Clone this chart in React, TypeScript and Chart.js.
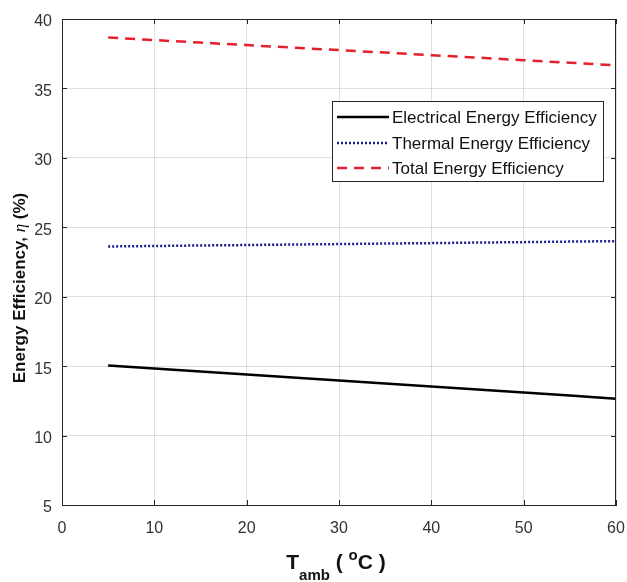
import { useEffect, useRef } from 'react';
import { Chart, registerables } from 'chart.js';

Chart.register(...registerables);

const temperatures = [5, 10, 15, 20, 25, 30, 35, 40, 45, 50, 55, 60];
const electrical = [15.05, 14.83, 14.61, 14.4, 14.18, 13.97, 13.75, 13.53, 13.32, 13.1, 12.88, 12.66];
const thermal = [23.62, 23.65, 23.69, 23.72, 23.76, 23.79, 23.83, 23.86, 23.9, 23.93, 23.97, 24.0];
const total = [38.67, 38.48, 38.3, 38.12, 37.94, 37.76, 37.58, 37.39, 37.22, 37.03, 36.85, 36.66];
const seriesLabels = ['Electrical Energy Efficiency', 'Thermal Energy Efficiency', 'Total Energy Efficiency'];
const xRange = [0, 60];
const yRange = [5, 40];

const FONT = '"Liberation Sans", Arial, Helvetica, sans-serif';
const AXIS = '#262626';
const TICK_TEXT = '#333333';

const decorPlugin = {
  id: 'decor',
  afterDraw(chart: any) {
    const ctx = chart.ctx as CanvasRenderingContext2D;
    const { left, right, top, bottom } = chart.chartArea;
    const xs = chart.scales.x;
    const ys = chart.scales.y;
    ctx.save();
    // box border top/right
    ctx.strokeStyle = AXIS;
    ctx.lineWidth = 1;
    ctx.beginPath();
    ctx.moveTo(left, top + 0.5);
    ctx.lineTo(right, top + 0.5);
    ctx.moveTo(right - 0.5, top);
    ctx.lineTo(right - 0.5, bottom);
    ctx.stroke();
    // inward ticks
    const tl = 5;
    ctx.beginPath();
    xs.ticks.forEach((t: any) => {
      const px = Math.round(xs.getPixelForValue(t.value)) + 0.5;
      ctx.moveTo(px, bottom);
      ctx.lineTo(px, bottom - tl);
      ctx.moveTo(px, top);
      ctx.lineTo(px, top + tl);
    });
    ys.ticks.forEach((t: any) => {
      const py = Math.round(ys.getPixelForValue(t.value)) + 0.5;
      ctx.moveTo(left, py);
      ctx.lineTo(left + tl, py);
      ctx.moveTo(right, py);
      ctx.lineTo(right - tl, py);
    });
    ctx.stroke();

    // legend
    const lx = 332, ly = 101, lw = 271, lh = 80;
    ctx.fillStyle = '#ffffff';
    ctx.fillRect(lx, ly, lw, lh);
    ctx.strokeStyle = AXIS;
    ctx.lineWidth = 1;
    ctx.strokeRect(lx + 0.5, ly + 0.5, lw, lh);
    const rows = [117, 143, 168];
    chart.data.datasets.forEach((ds: any, i: number) => {
      const y = rows[i];
      ctx.save();
      ctx.strokeStyle = ds.borderColor;
      ctx.lineWidth = ds.borderWidth;
      ctx.setLineDash(ds.borderDash || []);
      ctx.beginPath();
      ctx.moveTo(337, y);
      ctx.lineTo(389, y);
      ctx.stroke();
      ctx.restore();
      ctx.fillStyle = '#111111';
      ctx.font = `17px ${FONT}`;
      ctx.textBaseline = 'middle';
      ctx.textAlign = 'left';
      ctx.fillText(ds.label, 392, y + 1);
    });

    // x title: T_amb ( °C )
    ctx.fillStyle = '#111111';
    ctx.textBaseline = 'alphabetic';
    ctx.textAlign = 'left';
    const big = `bold 21px ${FONT}`;
    const small = `bold 15px ${FONT}`;
    ctx.font = big;
    const wT = ctx.measureText('T').width;
    const wOpen = ctx.measureText(' ( ').width;
    const wC = ctx.measureText('C )').width;
    ctx.font = small;
    const wAmb = ctx.measureText('amb').width;
    const wO = ctx.measureText('o').width;
    const totalW = wT + wAmb + wOpen + wO + wC;
    let cx = 336 - totalW / 2;
    const base = 569;
    ctx.font = big;
    ctx.fillText('T', cx, base);
    cx += wT;
    ctx.font = small;
    ctx.fillText('amb', cx, base + 11);
    cx += wAmb;
    ctx.font = big;
    ctx.fillText(' ( ', cx, base);
    cx += wOpen;
    ctx.font = small;
    ctx.fillText('o', cx, base - 9);
    cx += wO;
    ctx.font = big;
    ctx.fillText('C )', cx, base);

    // y title: Energy Efficiency, η (%)
    ctx.save();
    ctx.translate(25, 0);
    ctx.rotate(-Math.PI / 2);
    const f1 = `bold 17px ${FONT}`;
    const f2 = `italic 17px "Liberation Serif", "Times New Roman", serif`;
    ctx.font = f1;
    const p1 = 'Energy Efficiency, ';
    const p3 = ' (%)';
    const w1 = ctx.measureText(p1).width;
    const w3 = ctx.measureText(p3).width;
    ctx.font = f2;
    const w2 = ctx.measureText('η').width;
    const tw = w1 + w2 + w3;
    let ty = -(288 + tw / 2);
    ctx.font = f1;
    ctx.fillText(p1, ty, 0);
    ty += w1;
    ctx.font = f2;
    ctx.fillText('η', ty, 0);
    ty += w2;
    ctx.font = f1;
    ctx.fillText(p3, ty, 0);
    ctx.restore();

    ctx.restore();
  },
};

export default function App() {
  const ref = useRef<HTMLCanvasElement | null>(null);
  useEffect(() => {
    document.body.style.margin = '0';
    const mk = (arr: number[]) => temperatures.map((t, i) => ({ x: t, y: arr[i] }));
    const chart = new Chart(ref.current as HTMLCanvasElement, {
      type: 'line',
      data: {
        datasets: [
          {
            label: seriesLabels[0],
            data: mk(electrical),
            borderColor: '#000000',
            borderWidth: 2.5,
            pointRadius: 0,
            fill: false,
          },
          {
            label: seriesLabels[1],
            data: mk(thermal),
            borderColor: '#1a1a8a',
            borderWidth: 2.5,
            borderDash: [2, 2],
            pointRadius: 0,
            fill: false,
          },
          {
            label: seriesLabels[2],
            data: mk(total),
            borderColor: '#e3202c',
            borderWidth: 2.5,
            borderDash: [10, 7],
            pointRadius: 0,
            fill: false,
          },
        ],
      },
      options: {
        animation: false,
        responsive: false,
        layout: { padding: { top: 19, right: 11, left: 0, bottom: 0 } },
        plugins: { legend: { display: false }, tooltip: { enabled: false } },
        scales: {
          x: {
            type: 'linear',
            min: xRange[0],
            max: xRange[1],
            ticks: { stepSize: 10, color: TICK_TEXT, font: { family: FONT, size: 16 }, padding: 14, maxRotation: 0 },
            grid: { color: 'rgba(0,0,0,0.12)', drawTicks: false },
            border: { display: true, color: AXIS, width: 1 },
            afterFit: (s: any) => {
              s.height = 77;
              s.paddingLeft = 0;
              s.paddingRight = 0;
            },
          },
          y: {
            type: 'linear',
            min: yRange[0],
            max: yRange[1],
            ticks: { stepSize: 5, color: TICK_TEXT, font: { family: FONT, size: 16 }, padding: 10, labelOffset: 3 },
            grid: { color: 'rgba(0,0,0,0.12)', drawTicks: false },
            border: { display: true, color: AXIS, width: 1 },
            afterFit: (s: any) => {
              s.width = 62;
              s.paddingTop = 0;
              s.paddingBottom = 0;
            },
          },
        },
      },
      plugins: [decorPlugin],
    } as any);
    return () => chart.destroy();
  }, []);
  return (
    <div style={{ position: 'absolute', left: 0, top: 0, width: 627, height: 582, background: '#fff' }}>
      <canvas ref={ref} width={627} height={582} style={{ display: 'block' }} />
    </div>
  );
}
